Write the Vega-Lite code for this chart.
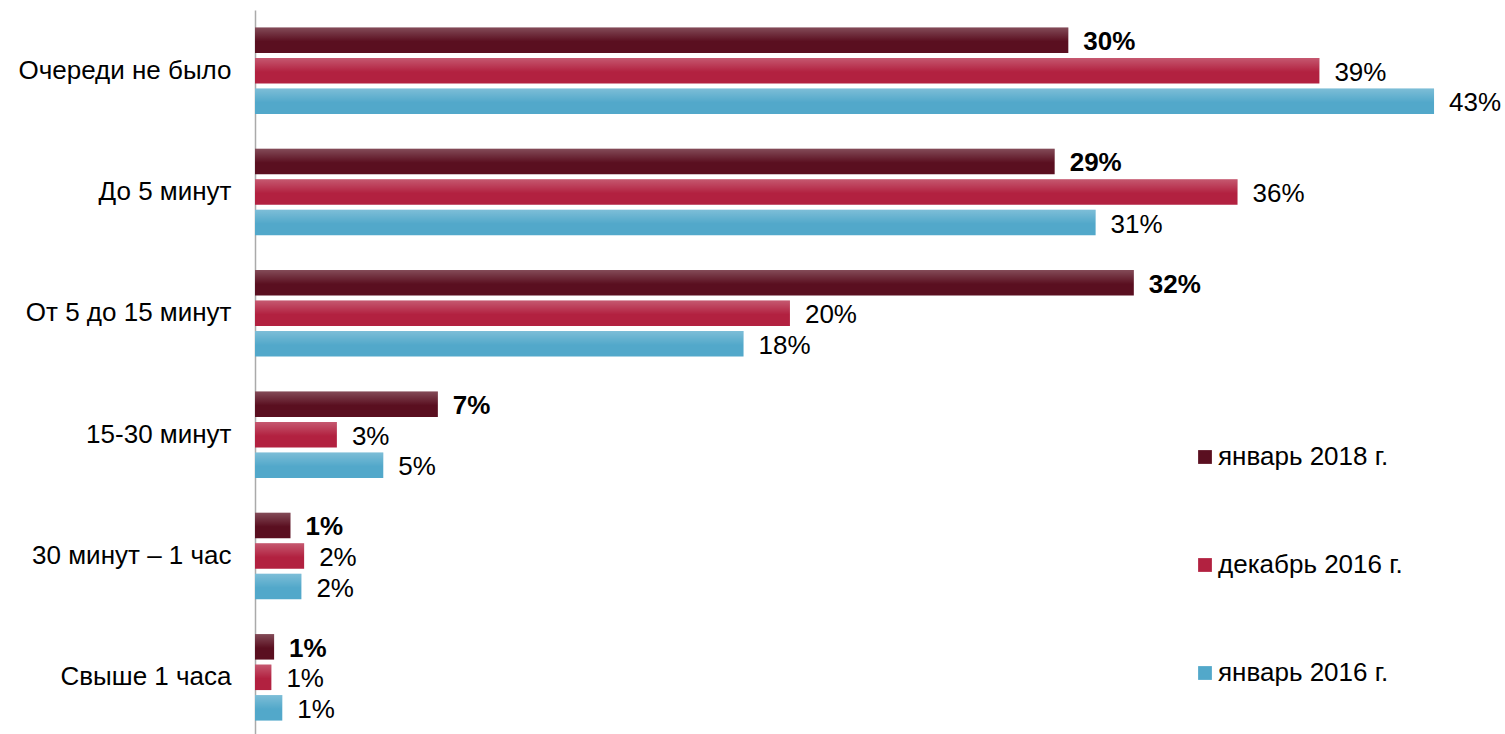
{
  "$schema": "https://vega.github.io/schema/vega-lite/v6.json",
  "autosize": {"type": "none"},
  "padding": {"left": 255, "top": 10, "right": 0, "bottom": 0},
  "width": 1250,
  "height": 724,
  "background": "white",
  "config": {
    "view": {"stroke": null},
    "font": "Liberation Sans"
  },
  "data": {
    "values": [
      {"category": "Очереди не было", "series": "январь 2018 г.", "value": 29.8, "label": "30%"},
      {"category": "Очереди не было", "series": "декабрь 2016 г.", "value": 39.0, "label": "39%"},
      {"category": "Очереди не было", "series": "январь 2016 г.", "value": 43.2, "label": "43%"},
      {"category": "До 5 минут", "series": "январь 2018 г.", "value": 29.3, "label": "29%"},
      {"category": "До 5 минут", "series": "декабрь 2016 г.", "value": 36.0, "label": "36%"},
      {"category": "До 5 минут", "series": "январь 2016 г.", "value": 30.8, "label": "31%"},
      {"category": "От 5 до 15 минут", "series": "январь 2018 г.", "value": 32.2, "label": "32%"},
      {"category": "От 5 до 15 минут", "series": "декабрь 2016 г.", "value": 19.6, "label": "20%"},
      {"category": "От 5 до 15 минут", "series": "январь 2016 г.", "value": 17.9, "label": "18%"},
      {"category": "15-30 минут", "series": "январь 2018 г.", "value": 6.7, "label": "7%"},
      {"category": "15-30 минут", "series": "декабрь 2016 г.", "value": 3.0, "label": "3%"},
      {"category": "15-30 минут", "series": "январь 2016 г.", "value": 4.7, "label": "5%"},
      {"category": "30 минут – 1 час", "series": "январь 2018 г.", "value": 1.3, "label": "1%"},
      {"category": "30 минут – 1 час", "series": "декабрь 2016 г.", "value": 1.8, "label": "2%"},
      {"category": "30 минут – 1 час", "series": "январь 2016 г.", "value": 1.7, "label": "2%"},
      {"category": "Свыше 1 часа", "series": "январь 2018 г.", "value": 0.7, "label": "1%"},
      {"category": "Свыше 1 часа", "series": "декабрь 2016 г.", "value": 0.6, "label": "1%"},
      {"category": "Свыше 1 часа", "series": "январь 2016 г.", "value": 1.0, "label": "1%"}
    ]
  },
  "encoding": {
    "y": {
      "field": "category",
      "type": "nominal",
      "sort": ["Очереди не было", "До 5 минут", "От 5 до 15 минут", "15-30 минут", "30 минут – 1 час", "Свыше 1 часа"],
      "scale": {"range": [0, 728], "paddingInner": 0, "paddingOuter": 0},
      "axis": {
        "title": null,
        "ticks": false,
        "grid": false,
        "domainColor": "#aaaaaa",
        "domainWidth": 1.5,
        "labelFontSize": 26,
        "labelColor": "#000000",
        "labelPadding": 24,
        "labelLimit": 0,
        "labelFont": "Liberation Sans"
      }
    },
    "yOffset": {
      "field": "series",
      "type": "nominal",
      "sort": ["январь 2018 г.", "декабрь 2016 г.", "январь 2016 г."],
      "scale": {"paddingInner": 0.164, "paddingOuter": 0.571}
    },
    "x": {
      "field": "value",
      "type": "quantitative",
      "scale": {"domain": [0, 45.8], "nice": false, "zero": true},
      "axis": null
    }
  },
  "layer": [
    {
      "mark": {"type": "bar"},
      "encoding": {
        "color": {
          "field": "series",
          "type": "nominal",
          "sort": ["январь 2018 г.", "декабрь 2016 г.", "январь 2016 г."],
          "scale": {
            "domain": ["январь 2018 г.", "декабрь 2016 г.", "январь 2016 г."],
            "range": ["#5a0f20", "#b22140", "#52a8ca"]
          },
          "legend": {
            "title": null,
            "orient": "none",
            "legendX": 937,
            "legendY": 434,
            "symbolType": "square",
            "symbolSize": 190,
            "symbolStrokeWidth": 0,
            "labelFontSize": 26,
            "labelFont": "Liberation Sans",
            "labelColor": "#000000",
            "labelOffset": 0,
            "labelLimit": 0,
            "rowPadding": 82,
            "padding": 0
          }
        }
      }
    },
    {
      "mark": {
        "type": "bar",
        "color": {
          "gradient": "linear",
          "x1": 0, "y1": 0, "x2": 0, "y2": 1,
          "stops": [
            {"offset": 0, "color": "rgba(255,255,255,0.25)"},
            {"offset": 0.55, "color": "rgba(255,255,255,0)"},
            {"offset": 1, "color": "rgba(255,255,255,0)"}
          ]
        }
      }
    },
    {
      "transform": [{"filter": "datum.series === 'январь 2018 г.'"}],
      "mark": {"type": "text", "align": "left", "baseline": "middle", "dx": 15, "dy": 2, "fontSize": 26, "fontWeight": "bold", "font": "Liberation Sans", "color": "#000000"},
      "encoding": {
        "text": {"field": "label"}
      }
    },
    {
      "transform": [{"filter": "datum.series !== 'январь 2018 г.'"}],
      "mark": {"type": "text", "align": "left", "baseline": "middle", "dx": 15, "dy": 2, "fontSize": 26, "font": "Liberation Sans", "color": "#000000"},
      "encoding": {
        "text": {"field": "label"}
      }
    }
  ]
}
